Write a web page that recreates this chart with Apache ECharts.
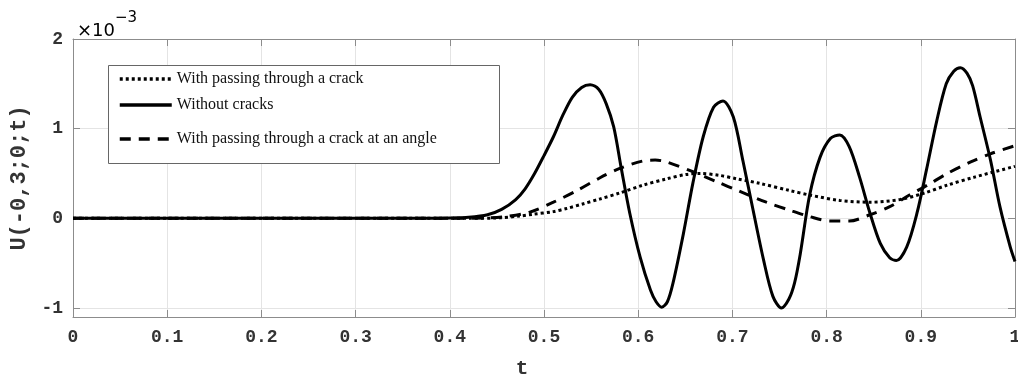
<!DOCTYPE html>
<html>
<head>
<meta charset="utf-8">
<script src="https://cdn.jsdelivr.net/npm/echarts@6/dist/echarts.min.js"></script>
<style>html,body{margin:0;padding:0;background:#fff;}#c{width:1018px;height:376px;}</style>
</head>
<body>
<div id="c"></div>
<script>
// ---- data (values in units of 1e-3) ----
const xTicks = ['0','0.1','0.2','0.3','0.4','0.5','0.6','0.7','0.8','0.9','1'];
const yTicks = [-1, 0, 1, 2];
const seriesNames = ['With passing through a crack', 'Without cracks', 'With passing through a crack at an angle'];

const tSolid = [0,0.38,0.40,0.42,0.44,0.455,0.47,0.48,0.49,0.50,0.51,0.52,0.53,0.54,0.549,0.558,0.566,0.574,0.582,0.591,0.602,0.613,0.619,0.625,0.631,0.637,0.648,0.658,0.669,0.680,0.690,0.701,0.711,0.722,0.733,0.743,0.752,0.760,0.766,0.772,0.782,0.793,0.804,0.814,0.824,0.835,0.846,0.857,0.867,0.874,0.885,0.896,0.906,0.917,0.927,0.935,0.942,0.949,0.955,0.963,0.974,0.984,0.995,1.0];
const uSolid = [0,0,0.003,0.012,0.04,0.10,0.21,0.33,0.50,0.70,0.91,1.15,1.35,1.46,1.49,1.44,1.28,1.02,0.56,0.06,-0.43,-0.80,-0.93,-0.99,-0.93,-0.72,-0.17,0.39,0.91,1.24,1.31,1.13,0.65,0.09,-0.46,-0.87,-1.00,-0.90,-0.72,-0.40,0.26,0.68,0.89,0.93,0.80,0.46,0.06,-0.28,-0.44,-0.47,-0.32,0.06,0.54,1.09,1.50,1.64,1.68,1.62,1.48,1.13,0.65,0.13,-0.32,-0.48];

const tDashed = [0,0.40,0.44,0.46,0.485,0.51,0.535,0.559,0.581,0.605,0.618,0.630,0.658,0.683,0.708,0.736,0.761,0.782,0.804,0.824,0.846,0.867,0.888,0.907,0.928,0.953,0.974,1.0];
const uDashed = [0,0,0.005,0.02,0.07,0.18,0.31,0.45,0.56,0.64,0.65,0.63,0.52,0.41,0.30,0.18,0.09,0.02,-0.03,-0.03,0.04,0.13,0.26,0.37,0.50,0.63,0.72,0.81];

const tDotted = [0,0.42,0.45,0.474,0.488,0.51,0.524,0.541,0.559,0.581,0.605,0.630,0.651,0.666,0.686,0.705,0.729,0.761,0.782,0.814,0.846,0.878,0.903,0.928,0.957,1.0];
const uDotted = [0,0,0.005,0.025,0.045,0.075,0.11,0.16,0.215,0.285,0.37,0.44,0.49,0.50,0.48,0.44,0.39,0.31,0.26,0.20,0.18,0.21,0.28,0.37,0.46,0.58];

function pairs(t, u) { return t.map((v, i) => [v, u[i]]); }

const chart = echarts.init(document.getElementById('c'), null, {renderer: 'canvas'});
const mono = '"Liberation Mono", "DejaVu Sans Mono", monospace';
const serif = '"Liberation Serif", "Times New Roman", serif';
const axisGray = '#8c8c8c';
const gridGray = '#e4e4e4';

const commonX = {
  type: 'value', min: 0, max: 1, interval: 0.1,
  axisLine: {show: true, onZero: false, lineStyle: {color: axisGray, width: 1}},
  axisTick: {show: true, inside: true, length: 7, lineStyle: {color: axisGray}},
  splitLine: {show: false}
};
const commonY = {
  type: 'value', min: -1.1, max: 2, splitNumber: 3,
  axisLine: {show: true, onZero: false, lineStyle: {color: axisGray, width: 1}},
  axisTick: {show: true, inside: true, length: 7, lineStyle: {color: axisGray}},
  splitLine: {show: false}
};

const legendText = {fontFamily: serif, fontSize: 16, color: '#111', lineHeight: 16};
const legendCommon = {left: 113, itemWidth: 52, itemHeight: 14, z: 100, textStyle: legendText,
  itemStyle: {opacity: 0}, lineStyle: {width: 3.5}};

const option = {
  backgroundColor: '#fff',
  animation: false,
  grid: {left: 73, right: 3, top: 39, bottom: 59, containLabel: false, outerBoundsMode: 'none'},
  xAxis: [
    Object.assign({}, commonX, {
      position: 'bottom',
      name: 't', nameLocation: 'middle', nameGap: 41,
      nameTextStyle: {fontFamily: mono, fontSize: 21, fontWeight: 'bold', color: '#333', padding: [0, 44, 0, 0]},
      axisLabel: {fontFamily: mono, fontSize: 18, fontWeight: 'bold', color: '#333', margin: 11,
        formatter: v => xTicks[Math.round(v * 10)]},
      splitLine: {show: true, lineStyle: {color: gridGray, width: 1}}
    }),
    Object.assign({}, commonX, {position: 'top', axisLabel: {show: false}})
  ],
  yAxis: [
    Object.assign({}, commonY, {
      position: 'left',
      name: 'U(-0,3;0;t)', nameLocation: 'middle', nameGap: 40, nameRotate: 90,
      nameTextStyle: {fontFamily: mono, fontSize: 22, fontWeight: 'bold', color: '#333'},
      axisLabel: {fontFamily: mono, fontSize: 18, fontWeight: 'bold', color: '#333', margin: 10,
        showMinLabel: false,
        formatter: v => (yTicks.indexOf(Math.round(v)) >= 0 && Math.abs(v - Math.round(v)) < 1e-6) ? String(Math.round(v)) : ''},
      splitLine: {show: true, lineStyle: {color: gridGray, width: 1}}
    }),
    Object.assign({}, commonY, {position: 'right', axisLabel: {show: false}})
  ],
  legend: [
    Object.assign({data: [seriesNames[0]], top: 66}, legendCommon),
    Object.assign({data: [seriesNames[1]], top: 92}, legendCommon),
    Object.assign({data: [seriesNames[2]], top: 126}, legendCommon)
  ],
  graphic: [
    {type: 'rect', left: 108, top: 65, shape: {width: 391, height: 98}, z: 50,
     style: {fill: '#fff', stroke: '#666', lineWidth: 1}},
    {type: 'text', left: 77, top: 11, z: 100,
     style: {text: '{a|\u00d710}{b|\u22123}', rich: {
       a: {fontFamily: '"DejaVu Sans", sans-serif', fontSize: 18, color: '#333', verticalAlign: 'bottom', padding: [11, 0, 0, 0]},
       b: {fontFamily: '"DejaVu Sans", sans-serif', fontSize: 15, color: '#333', verticalAlign: 'top'}
     }}}
  ],
  series: [
    {name: seriesNames[0], type: 'line', xAxisIndex: 0, yAxisIndex: 0, data: pairs(tDotted, uDotted),
     showSymbol: false, symbol: 'none', smooth: 0.3, z: 3,
     lineStyle: {color: '#000', width: 3, type: [3, 3]}, itemStyle: {color: '#000'}},
    {name: seriesNames[1], type: 'line', xAxisIndex: 0, yAxisIndex: 0, data: pairs(tSolid, uSolid),
     showSymbol: false, symbol: 'none', smooth: 0.3, z: 4,
     lineStyle: {color: '#000', width: 3, type: 'solid'}, itemStyle: {color: '#000'}},
    {name: seriesNames[2], type: 'line', xAxisIndex: 0, yAxisIndex: 0, data: pairs(tDashed, uDashed),
     showSymbol: false, symbol: 'none', smooth: 0.3, z: 3,
     lineStyle: {color: '#000', width: 3, type: [11, 8]}, itemStyle: {color: '#000'}}
  ]
};
chart.setOption(option);
</script>
</body>
</html>
